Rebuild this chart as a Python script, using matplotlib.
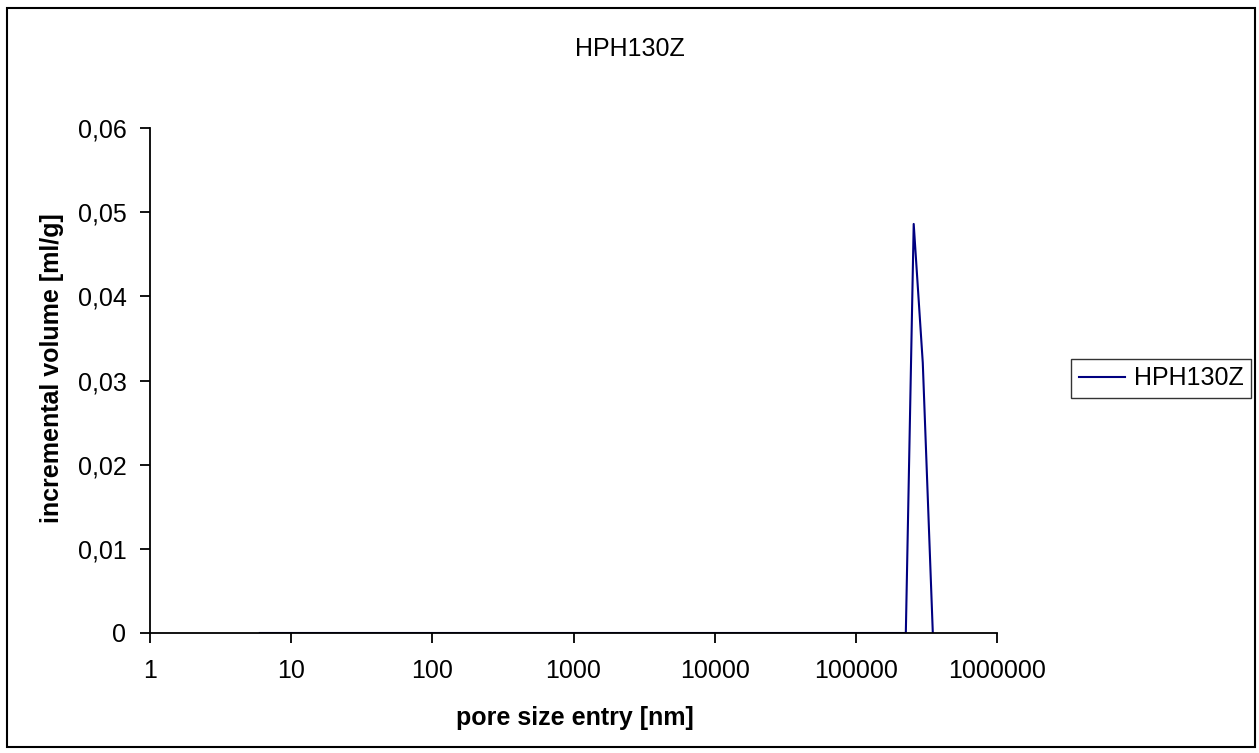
import matplotlib.pyplot as plt
from matplotlib.patches import Rectangle
from matplotlib.ticker import FuncFormatter, FixedLocator, NullLocator

plt.rcParams['font.family'] = ['Liberation Sans', 'DejaVu Sans']

# pore size entry [nm] and incremental volume [ml/g]
pore_size = [6, 20, 100, 1000, 10000, 100000, 226000, 257000, 298000, 351000]
volume = [0, 0, 0, 0, 0, 0, 0, 0.0486, 0.0321, 0]
x_ticks = [1, 10, 100, 1000, 10000, 100000, 1000000]
y_ticks = [0, 0.01, 0.02, 0.03, 0.04, 0.05, 0.06]

W, H = 1259, 753
fig = plt.figure(figsize=(W / 100, H / 100), dpi=100)
ax = fig.add_axes([150 / W, 1 - 633 / H, 847 / W, 505 / H])

ax.plot(pore_size, volume, '-', color='#000080', lw=1.5, label='HPH130Z')

ax.set_xscale('log')
ax.set_xlim(1, 1000000)
ax.set_ylim(0, 0.06)
ax.xaxis.set_major_locator(FixedLocator(x_ticks))
ax.xaxis.set_minor_locator(NullLocator())
ax.xaxis.set_major_formatter(FuncFormatter(lambda v, p: f'{v:.0f}'))
ax.set_yticks(y_ticks)
ax.yaxis.set_major_formatter(FuncFormatter(lambda v, p: '0' if v == 0 else f'{v:.2f}'.replace('.', ',')))

for s in ['top', 'right']:
    ax.spines[s].set_visible(False)
ax.spines['left'].set_linewidth(1.3)
ax.spines['bottom'].set_linewidth(1.3)
ax.tick_params(direction='out', length=7, width=1.3, labelsize=18)
ax.tick_params(axis='x', pad=12)
ax.tick_params(axis='y', pad=10)

fig.text(575 / W, 1 - 718 / H, 'pore size entry [nm]', ha='center', va='center',
         fontsize=18, fontweight='bold')
fig.text(52 / W, 1 - 368 / H, 'incremental volume [ml/g]', ha='center', va='center',
         rotation=90, fontsize=18, fontweight='bold')
fig.text(630 / W, 1 - 49 / H, 'HPH130Z', ha='center', va='center', fontsize=18)

leg = ax.legend(loc='center left', bbox_to_anchor=(1.0874, 0.504), fontsize=18,
                frameon=True, fancybox=False, handlelength=1.85, handletextpad=0.36,
                borderpad=0.3, borderaxespad=0)
leg.get_frame().set_edgecolor('black')
leg.get_frame().set_linewidth(1.0)

fig.add_artist(Rectangle((0.0056, 0.008), 0.9912, 0.981, transform=fig.transFigure,
                         fill=False, edgecolor='black', linewidth=1.5))

fig.savefig('out.png', dpi=100)
